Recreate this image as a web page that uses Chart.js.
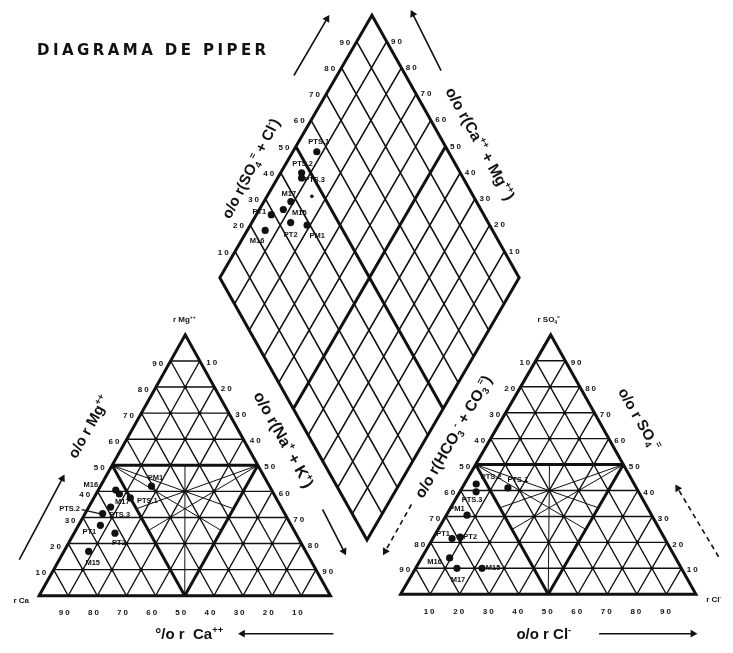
<!DOCTYPE html>
<html lang="es">
<head>
<meta charset="utf-8">
<title>Diagrama de Piper</title>
<script src="https://cdn.jsdelivr.net/npm/chart.js@4.4.1/dist/chart.umd.min.js"></script>
<style>
  html, body { margin: 0; padding: 0; background: #ffffff; }
  #box { width: 733px; height: 653px; }
  canvas { display: block; }
</style>
</head>
<body>
<div id="box"><canvas id="piper" width="733" height="653"></canvas></div>
<script>
// ---- Datos ----
// Muestras representadas
const samples = ['PM1', 'M15', 'M16', 'M17', 'PT1', 'PT2', 'PTS.1', 'PTS.2', 'PTS.3'];
// Triángulo de cationes: % r Mg++ y % r (Na+ + K+)
const cationMg  = [42, 17, 40.5, 39, 27, 24, 37.5, 31.5, 34];
const cationNaK = [17.5, 8.5, 6, 8, 7.5, 14, 12.5, 6, 7.5];
// Triángulo de aniones: % r SO4= y % r Cl-
const anionSO4 = [30.5, 10, 14, 10, 21.5, 22, 41, 42.5, 39.5];
const anionCl  = [7, 22.5, 9.5, 14, 6.5, 9, 15.5, 4, 5.5];
// Rombo central: % r (Ca++ + Mg++) y % r (SO4= + Cl-)
const rhombCaMg  = [81, 92, 94, 91, 95, 87, 92, 93, 92];
const rhombSO4Cl = [39, 34, 24, 38, 29, 34, 56, 47, 46];
// Punto suelto, sin rótulo, dentro del rombo
const looseCaMg  = [85];
const looseSO4Cl = [46];
// Graduaciones de los lados
const tickValues = [10, 20, 30, 40, 50, 60, 70, 80, 90];

// ---- Disposición de las figuras ----
const CATION = { bl: [35, 599.5], br: [330, 599.5], ap: [183, 335] };
const ANION  = { bl: [401, 598], br: [700, 598], ap: [553, 335] };
const RHOMB  = { b: [367, 543], l: [218, 277], r: [521, 277] };

// desplazamiento de cada rótulo respecto a su punto (mismo orden que samples)
const cationLabelOffset = [[4, -8], [4, 12], [-25, -5], [3, 8], [-11, 7], [4, 10], [17, 3], [-33, -5], [9, 8]];
const anionLabelOffset  = [[-10, -6], [11, 0], [-15, 4], [1, 12], [-9, -5], [10, 0], [10, -8], [15, -7], [-4, 8]];
const rhombLabelOffset  = [[10, 11], [16, 3], [-8, 10], [-2, -8], [-12, -3], [0, 12], [2, -10], [1, -9], [13, 2]];

const INK = '#111111';
const FONT = '"Liberation Sans", Arial, sans-serif';
const WIDE = '"DejaVu Sans", "Liberation Sans", sans-serif';
const NARROW = '"Liberation Sans Narrow", "Liberation Sans", Arial, sans-serif';

// punto de un triángulo: p = fracción del vértice superior, q = fracción del vértice inferior derecho
function tern(t, p, q) {
  return {
    x: t.bl[0] + p * (t.ap[0] - t.bl[0]) + q * (t.br[0] - t.bl[0]),
    y: t.bl[1] + p * (t.ap[1] - t.bl[1]) + q * (t.br[1] - t.bl[1])
  };
}
// punto del rombo: c = fracción de Ca+Mg, a = fracción de SO4+Cl
function rhomb(c, a) {
  return {
    x: RHOMB.b[0] + c * (RHOMB.l[0] - RHOMB.b[0]) + a * (RHOMB.r[0] - RHOMB.b[0]),
    y: RHOMB.b[1] + c * (RHOMB.l[1] - RHOMB.b[1]) + a * (RHOMB.r[1] - RHOMB.b[1])
  };
}
function lerp(u, w, f) { return { x: u.x + f * (w.x - u.x), y: u.y + f * (w.y - u.y) }; }
function seg(list, ...pts) { list.push(...pts, { x: null, y: null }); }

// ---- Retículas ----
const thinTri = [], thickTri = [], starTri = [], nodes = [];
[CATION, ANION].forEach(t => {
  for (let i = 1; i <= 9; i++) {
    const f = i / 10, dst = i === 5 ? thickTri : thinTri;
    seg(dst, tern(t, f, 0), tern(t, f, 1 - f));
    seg(dst, tern(t, 0, f), tern(t, 1 - f, f));
    seg(dst, tern(t, 0, 1 - f), tern(t, 1 - f, 0));
  }
  seg(thickTri, tern(t, 0, 0), tern(t, 0, 1), tern(t, 1, 0), tern(t, 0, 0), tern(t, 0, 1));
  const lm = tern(t, 0.5, 0), rm = tern(t, 0.5, 0.5), bm = tern(t, 0, 0.5);
  seg(starTri, bm, lerp(lm, rm, 0.5));
  seg(starTri, lm, lerp(rm, bm, 0.5));
  seg(starTri, lm, lerp(rm, bm, 1 / 3));
  seg(starTri, rm, lerp(lm, bm, 0.5));
  seg(starTri, rm, lerp(lm, bm, 1 / 3));
  for (let i = 1; i <= 8; i++) for (let j = 1; i + j <= 9; j++) nodes.push(tern(t, i / 10, j / 10));
});
const thinRh = [], thickRh = [];
for (let i = 1; i <= 9; i++) {
  const f = i / 10, dst = i === 5 ? thickRh : thinRh;
  seg(dst, rhomb(f, 0), rhomb(f, 1));
  seg(dst, rhomb(0, f), rhomb(1, f));
}
seg(thickRh, rhomb(0, 0), rhomb(1, 0), rhomb(1, 1), rhomb(0, 1), rhomb(0, 0), rhomb(1, 0));

// ---- Flechas de sentido ----
const arrows = [
  { from: [15, 563], to: [60, 478], dashed: false },
  { from: [322, 512], to: [345, 557], dashed: false },
  { from: [333, 638], to: [238, 638], dashed: false },
  { from: [412, 507], to: [384, 557], dashed: true },
  { from: [723, 560], to: [680, 488], dashed: true },
  { from: [602, 638], to: [700, 638], dashed: false },
  { from: [293, 72], to: [328, 12], dashed: false },
  { from: [442, 67], to: [412, 7], dashed: false }
];
const arrowSolid = [], arrowDashed = [], heads = [], headRot = [];
arrows.forEach(a => {
  const dx = a.to[0] - a.from[0], dy = a.to[1] - a.from[1], len = Math.hypot(dx, dy);
  seg(a.dashed ? arrowDashed : arrowSolid, { x: a.from[0], y: a.from[1] }, { x: a.to[0] - dx / len * 3, y: a.to[1] - dy / len * 3 });
  heads.push({ x: a.to[0] - dx / len * 3, y: a.to[1] - dy / len * 3 });
  headRot.push(Math.atan2(dy, dx) * 180 / Math.PI + 90);
});

// ---- Puntos de las muestras ----
const cationPts = samples.map((_, i) => tern(CATION, cationMg[i] / 100, cationNaK[i] / 100));
const anionPts  = samples.map((_, i) => tern(ANION, anionSO4[i] / 100, anionCl[i] / 100));
const rhombPts  = samples.map((_, i) => rhomb(rhombCaMg[i] / 100, rhombSO4Cl[i] / 100));
const loosePts  = looseCaMg.map((c, i) => rhomb(c / 100, looseSO4Cl[i] / 100));

function lineDs(data, width, extra) {
  return Object.assign({
    data, showLine: true, pointRadius: 0, pointHoverRadius: 0, borderColor: INK,
    borderWidth: width, spanGaps: false, fill: false, borderJoinStyle: 'miter', borderCapStyle: 'butt'
  }, extra || {});
}
function pointDs(data, r, extra) {
  return Object.assign({
    data, showLine: false, pointRadius: r, pointHoverRadius: r,
    pointBackgroundColor: INK, pointBorderColor: INK, pointBorderWidth: 0
  }, extra || {});
}

// ---- Rótulos ----
function drawRich(ctx, parts, cx, cy, deg, size) {
  ctx.save();
  ctx.translate(cx, cy);
  ctx.rotate(deg * Math.PI / 180);
  ctx.textAlign = 'left';
  ctx.textBaseline = 'alphabetic';
  const spec = parts.map(([t, kind]) => {
    const s = kind ? size * 0.62 : size;
    ctx.font = `bold ${s}px ${FONT}`;
    return { t, kind, s, w: ctx.measureText(t).width };
  });
  const total = spec.reduce((a, p) => a + p.w, 0);
  let x = -total / 2;
  spec.forEach(p => {
    ctx.font = `bold ${p.s}px ${FONT}`;
    const dy = p.kind === 'sup' ? -size * 0.42 : p.kind === 'sub' ? size * 0.22 : 0;
    ctx.fillText(p.t, x, size * 0.36 + dy);
    x += p.w;
  });
  ctx.restore();
}

const titles = [
  { parts: [['o/o r Mg'], ['++', 'sup']], at: [85, 428], deg: -60.8, size: 15 },
  { parts: [['o/o r(Na'], ['+', 'sup'], [' + K'], ['+', 'sup'], [')']], at: [283, 441], deg: 61, size: 16 },
  { parts: [['°/o r  Ca'], ['++', 'sup']], at: [187, 638], deg: 0, size: 15 },
  { parts: [['o/o r(HCO'], ['3', 'sub'], ['-', 'sup'], [' + CO'], ['3', 'sub'], ['=', 'sup'], [')']], at: [454, 438], deg: -60, size: 15.5 },
  { parts: [['o/o r SO'], ['4', 'sub'], ['=', 'sup']], at: [643, 420], deg: 60, size: 15 },
  { parts: [['o/o r Cl'], ['-', 'sup']], at: [546, 638], deg: 0, size: 15 },
  { parts: [['o/o r(SO'], ['4', 'sub'], ['=', 'sup'], [' + Cl'], ['-', 'sup'], [')']], at: [249, 166], deg: -63, size: 15 },
  { parts: [['o/o r(Ca'], ['++', 'sup'], [' + Mg'], ['++', 'sup'], [')']], at: [482, 141], deg: 61, size: 15.5 }
];
const corners = [
  { parts: [['r Mg'], ['++', 'sup']], at: [182, 319] },
  { parts: [['r Ca']], at: [17, 604] },
  { parts: [['r SO'], ['4', 'sub'], ['=', 'sup']], at: [551, 319] },
  { parts: [['r Cl'], ['-', 'sup']], at: [718, 603] }
];

const piperText = {
  id: 'piperText',
  afterDatasetsDraw(chart) {
    const ctx = chart.ctx, xs = chart.scales.x, ys = chart.scales.y;
    const P = (x, y) => ({ x: xs.getPixelForValue(x), y: ys.getPixelForValue(y) });
    ctx.save();
    ctx.fillStyle = INK;
    ctx.strokeStyle = INK;

    // título
    ctx.font = `bold 15px ${WIDE}`;
    ctx.textAlign = 'left';
    ctx.textBaseline = 'middle';
    const title = 'DIAGRAMA DE PIPER';
    const w0 = ctx.measureText(title).width;
    ctx.letterSpacing = Math.max(0, (229 - w0) / (title.length - 1)).toFixed(2) + 'px';
    const tp = P(33, 47);
    ctx.fillText(title, tp.x, tp.y);
    ctx.letterSpacing = '0px';

    // graduaciones
    ctx.font = `bold 8px ${FONT}`;
    ctx.letterSpacing = '2px';
    ctx.textAlign = 'center';
    const tick = (v, pt, dx, dy) => { const q = P(pt.x + dx, pt.y + dy); ctx.fillText(String(v), q.x + 1, q.y); };
    tickValues.forEach(v => {
      const f = v / 100;
      tick(v, tern(CATION, f, 0), -13, 3);
      tick(v, tern(CATION, 1 - f, f), 12, 2);
      tick(v, tern(CATION, 0, 1 - f), -4, 17);
      tick(v, tern(ANION, 1 - f, 0), -11, 2);
      tick(v, tern(ANION, f, 1 - f), 11, 2);
      tick(v, tern(ANION, 0, f), -1, 18);
      tick(v, rhomb(1, f), -12, 1);
      tick(v, rhomb(f, 1), 10, 0);
    });
    ctx.letterSpacing = '0px';

    // títulos de los ejes y vértices
    titles.forEach(t => { const q = P(t.at[0], t.at[1]); drawRich(ctx, t.parts, q.x, q.y, t.deg, t.size); });
    corners.forEach(t => { const q = P(t.at[0], t.at[1]); drawRich(ctx, t.parts, q.x, q.y, 0, 8); });

    // rótulos de las muestras
    ctx.font = `bold 7.5px ${NARROW}`;
    ctx.textAlign = 'center';
    ctx.textBaseline = 'middle';
    [[0, cationLabelOffset], [1, anionLabelOffset], [2, rhombLabelOffset]].forEach(([di, offs]) => {
      const meta = chart.getDatasetMeta(di);
      meta.data.forEach((el, i) => {
        ctx.fillText(samples[i], el.x + offs[i][0], el.y + offs[i][1]);
      });
    });
    // guía del rótulo PTS.2 en el triángulo de cationes
    const k = samples.indexOf('PTS.2');
    const e = chart.getDatasetMeta(0).data[k];
    ctx.lineWidth = 1.2;
    ctx.beginPath();
    ctx.moveTo(e.x - 21, e.y - 4);
    ctx.lineTo(e.x - 3, e.y);
    ctx.stroke();
    ctx.restore();
  }
};

new Chart(document.getElementById('piper'), {
  type: 'scatter',
  data: {
    datasets: [
      pointDs(cationPts, 3.6),
      pointDs(anionPts, 3.6),
      pointDs(rhombPts, 3.6),
      pointDs(loosePts, 1.8),
      pointDs(heads, 4.5, { pointStyle: 'triangle', pointRotation: headRot }),
      lineDs(arrowSolid, 1.6),
      lineDs(arrowDashed, 1.6, { borderDash: [5, 4] }),
      pointDs(nodes, 1.8),
      lineDs(thickTri, 3),
      lineDs(thickRh, 3),
      lineDs(starTri, 1),
      lineDs(thinTri, 1.4),
      lineDs(thinRh, 1.6)
    ]
  },
  options: {
    responsive: false,
    animation: false,
    devicePixelRatio: 1,
    events: [],
    layout: { padding: 0 },
    plugins: { legend: { display: false }, tooltip: { enabled: false }, title: { display: false } },
    scales: {
      x: { type: 'linear', min: 0, max: 733, display: false },
      y: { type: 'linear', min: 0, max: 653, reverse: true, display: false }
    }
  },
  plugins: [piperText]
});
</script>
</body>
</html>
